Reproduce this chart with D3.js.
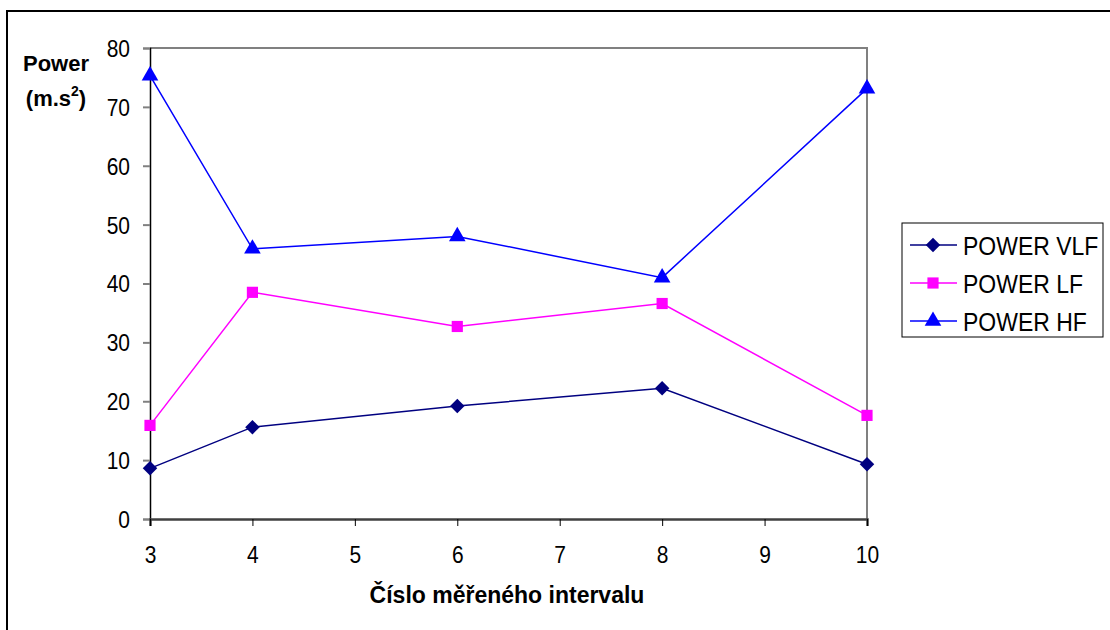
<!DOCTYPE html>
<html>
<head>
<meta charset="utf-8">
<script src="https://cdn.jsdelivr.net/npm/d3@7"></script>
<style>
  body { margin: 0; background: #fff; }
  svg { display: block; font-family: "Liberation Sans", Arial, sans-serif; }
</style>
</head>
<body>
<svg id="chart" width="1110" height="630"></svg>
<script>
// data
var intervals = [3, 4, 6, 8, 10];
var powerVLF = [8.6, 15.6, 19.2, 22.2, 9.3];
var powerLF = [15.9, 38.5, 32.7, 36.6, 17.6];
var powerHF = [75.3, 45.9, 48.0, 41.0, 73.1];
var xTicks = [3, 4, 5, 6, 7, 8, 9, 10];
var yTicks = [0, 10, 20, 30, 40, 50, 60, 70, 80];
var seriesNames = ["POWER VLF", "POWER LF", "POWER HF"];

// diamond as a square turned 45 degrees
var series = [
    { name: seriesNames[0], values: powerVLF, color: "#000080", shape: d3.symbolSquare, size: 105, rotate: 45 },
    { name: seriesNames[1], values: powerLF, color: "#ff00ff", shape: d3.symbolSquare, size: 125, rotate: 0 },
    { name: seriesNames[2], values: powerHF, color: "#0000ff", shape: d3.symbolTriangle, size: 120, rotate: 0 }
];

var svg = d3.select("#chart");
var plot = { left: 150, top: 48, right: 867, bottom: 519 };
var stretch = 1.12; // the original text is a bit taller than wide

// outer frame, runs off the right and bottom edges
svg.append("rect")
    .attr("x", 7).attr("y", 11)
    .attr("width", 1120).attr("height", 640)
    .attr("fill", "#fff").attr("stroke", "#000").attr("stroke-width", 2);

var x = d3.scaleLinear().domain([3, 10]).range([plot.left, plot.right]);
var y = d3.scaleLinear().domain([0, 80]).range([plot.bottom, plot.top]);

// plot area border (top and right in gray)
svg.append("path")
    .attr("d", "M" + plot.left + "," + plot.top + "H" + plot.right + "V" + plot.bottom)
    .attr("fill", "none").attr("stroke", "#808080").attr("stroke-width", 2);

// y axis
var yAxis = svg.append("g")
    .attr("transform", "translate(" + plot.left + ",0)")
    .call(d3.axisLeft(y).tickValues(yTicks).tickFormat(d3.format("d")).tickSize(7).tickPadding(13));
yAxis.select(".domain").attr("stroke", "#000").attr("stroke-width", 1.5);
yAxis.selectAll(".tick line").attr("stroke", "#808080").attr("stroke-width", 2);
yAxis.selectAll("text").attr("font-size", 21).attr("fill", "#000").attr("dy", "0.36em")
    .attr("transform", "scale(1," + stretch + ")")
    .attr("font-family", "Liberation Sans, Arial, sans-serif");

// x axis
var xAxis = svg.append("g")
    .attr("transform", "translate(0," + plot.bottom + ")")
    .call(d3.axisBottom(x).tickValues(xTicks).tickFormat(d3.format("d")).tickSize(7).tickPadding(0));
xAxis.select(".domain").attr("stroke", "#404040").attr("stroke-width", 2.5);
xAxis.selectAll(".tick line").attr("stroke", "#000").attr("stroke-width", 1);
xAxis.selectAll("text").attr("font-size", 21).attr("fill", "#000")
    .attr("y", 44 / stretch).attr("dy", null)
    .attr("transform", "scale(1," + stretch + ")")
    .attr("font-family", "Liberation Sans, Arial, sans-serif");

// lines and markers
var line = d3.line()
    .x(function (d, i) { return x(intervals[i]); })
    .y(function (d) { return y(d); });

series.forEach(function (s) {
    svg.append("path")
        .attr("d", line(s.values))
        .attr("fill", "none").attr("stroke", s.color).attr("stroke-width", 1.5);
    svg.selectAll(null)
        .data(s.values)
        .enter().append("path")
        .attr("transform", function (d, i) {
            return "translate(" + x(intervals[i]) + "," + y(d) + ") rotate(" + s.rotate + ")";
        })
        .attr("d", d3.symbol().type(s.shape).size(s.size))
        .attr("fill", s.color);
});

// axis titles
svg.append("text")
    .attr("x", 507).attr("y", 603)
    .attr("text-anchor", "middle")
    .attr("font-size", 23).attr("font-weight", "bold")
    .text("Číslo měřeného intervalu");

svg.append("text")
    .attr("x", 56).attr("y", 71)
    .attr("text-anchor", "middle")
    .attr("font-size", 22).attr("font-weight", "bold")
    .text("Power");

var unit = svg.append("text")
    .attr("x", 56).attr("y", 106)
    .attr("text-anchor", "middle")
    .attr("font-size", 22).attr("font-weight", "bold");
unit.append("tspan").text("(m.s");
unit.append("tspan").attr("dy", -10).attr("font-size", 14).text("2");
unit.append("tspan").attr("dy", 10).text(")");

// legend
var legend = svg.append("g").attr("transform", "translate(902,223)");
legend.append("rect")
    .attr("width", 201).attr("height", 114)
    .attr("fill", "#fff").attr("stroke", "#000").attr("stroke-width", 1);

series.forEach(function (s, i) {
    var ly = 22 + i * 38;
    legend.append("line")
        .attr("x1", 8).attr("x2", 55).attr("y1", ly).attr("y2", ly)
        .attr("stroke", s.color).attr("stroke-width", 1.5);
    legend.append("path")
        .attr("transform", "translate(31," + ly + ") rotate(" + s.rotate + ")")
        .attr("d", d3.symbol().type(s.shape).size(s.size))
        .attr("fill", s.color);
    legend.append("text")
        .attr("transform", "translate(61," + (ly + 10) + ") scale(1," + stretch + ")")
        .attr("font-size", 23)
        .text(s.name);
});
</script>
</body>
</html>
